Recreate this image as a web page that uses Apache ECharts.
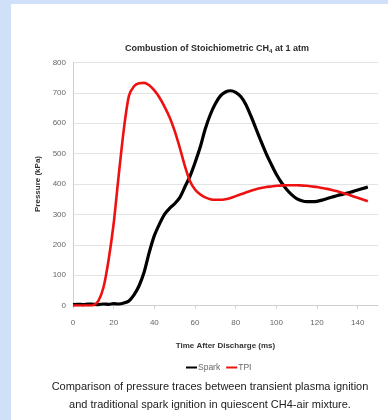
<!DOCTYPE html>
<html><head><meta charset="utf-8">
<script src="https://cdn.jsdelivr.net/npm/echarts@6/dist/echarts.min.js"></script>
<style>
html,body{margin:0;padding:0;background:#cfe0f8;}
#panel{position:absolute;left:11px;top:4px;width:377px;height:416px;background:#ffffff;}
#chart{position:absolute;left:0;top:0;width:388px;height:420px;}
</style></head>
<body>
<div id="panel"></div>
<div id="chart"></div>
<script>
// ---- data ----
const chartTitle = 'Combustion of Stoichiometric CH';
const xAxisName = 'Time After Discharge (ms)';
const yAxisName = 'Pressure (kPa)';
const seriesNames = ['Spark', 'TPI'];
const captionLines = [
  'Comparison of pressure traces between transient plasma ignition',
  'and traditional spark ignition in quiescent CH4-air mixture.'
];
const timeMs = [0,2.5,5,7.5,10,12.5,15,17.5,20,22.5,25,27.5,30,32.5,35,37.5,40,42.5,45,47.5,50,52.5,55,57.5,60,62.5,65,67.5,70,72.5,75,77.5,80,82.5,85,87.5,90,92.5,95,97.5,100,102.5,105,107.5,110,112.5,115,117.5,120,122.5,125,127.5,130,132.5,135,137.5,140,142.5,145];
const spark = [3,4,3,5,4,3,5,4,6,5,8,15,35,65,110,175,230,268,300,320,335,355,390,425,470,520,580,628,664,690,703,707,702,688,662,624,582,540,500,465,432,405,383,365,352,345,342,342,343,347,352,357,362,366,370,375,380,385,390];
const tpi = [0,0,0,0,1,15,60,150,270,430,580,690,722,732,733,725,708,685,655,620,575,520,460,410,382,366,356,350,348,348,350,354,360,366,372,378,383,387,390,392,394,395,396,396,396,395,394,392,390,387,384,380,376,371,366,360,355,349,343];
const xTicks = {min:0, max:150, interval:20};
const yTicks = {min:0, max:800, interval:100};

const pair = (arr) => timeMs.map((t,i) => [t, arr[i]]);
const chart = echarts.init(document.getElementById('chart'), null, {renderer:'canvas'});
const font = 'Liberation Sans, Arial, sans-serif';
chart.setOption({
  backgroundColor: 'transparent',
  animation: false,
  title: {
    text: '{t|' + chartTitle + '}{s|4}{t| at 1 atm}',
    left: 212, top: 39, textAlign: 'center',
    textStyle: { rich: {
      t: {fontFamily: font, fontSize: 9, fontWeight: 'bold', color: '#2b2b2b'},
      s: {fontFamily: font, fontSize: 6, fontWeight: 'bold', color: '#2b2b2b', verticalAlign: 'bottom', padding:[4,0,0,0]}
    }}
  },
  grid: { left: 73, right: 10, top: 62.5, bottom: 114.5, containLabel: false },
  legend: {
    data: seriesNames, left: 181, top: 358,
    icon: 'rect', itemWidth: 11, itemHeight: 2, itemGap: 6,
    textStyle: {fontFamily: font, fontSize: 8.5, color: '#666', padding:[0,0,0,-4]}
  },
  xAxis: {
    type: 'value', min: xTicks.min, max: xTicks.max, interval: xTicks.interval,
    name: xAxisName, nameLocation: 'middle', nameGap: 36,
    nameTextStyle: {fontFamily: font, fontSize: 8, fontWeight: 'bold', color: '#333'},
    axisLine: {show: true, lineStyle: {color: '#cfcfcf', width: 1}},
    axisTick: {show: true, length: 3, lineStyle: {color: '#cfcfcf'}},
    axisLabel: {fontFamily: font, fontSize: 8, color: '#666', margin: 13, showMaxLabel: false},
    splitLine: {show: false}
  },
  yAxis: {
    type: 'value', min: yTicks.min, max: yTicks.max, interval: yTicks.interval,
    name: yAxisName, nameLocation: 'middle', nameGap: 25, nameRotate: 90,
    nameTextStyle: {fontFamily: font, fontSize: 8, fontWeight: 'bold', color: '#333'},
    axisLine: {show: true, lineStyle: {color: '#cfcfcf', width: 1}},
    axisTick: {show: false},
    axisLabel: {fontFamily: font, fontSize: 8, color: '#666', margin: 7},
    splitLine: {show: true, lineStyle: {color: '#e3e3e3', width: 1}}
  },
  series: [
    {name: seriesNames[0], type: 'line', data: pair(spark), showSymbol: false, symbol: 'none',
     smooth: 0.25, itemStyle: {color: '#000000'}, lineStyle: {color: '#000000', width: 3.2}},
    {name: seriesNames[1], type: 'line', data: pair(tpi), showSymbol: false, symbol: 'none',
     smooth: 0.25, itemStyle: {color: '#ee1111'}, lineStyle: {color: '#ee1111', width: 2.6}}
  ],
  graphic: captionLines.map((line, i) => ({
    type: 'text', x: 210, y: 381 + i * 18,
    style: {text: line, fontFamily: font, fontSize: 11, fill: '#222', textAlign: 'center', textVerticalAlign: 'top'}
  }))
});
</script>
</body></html>
